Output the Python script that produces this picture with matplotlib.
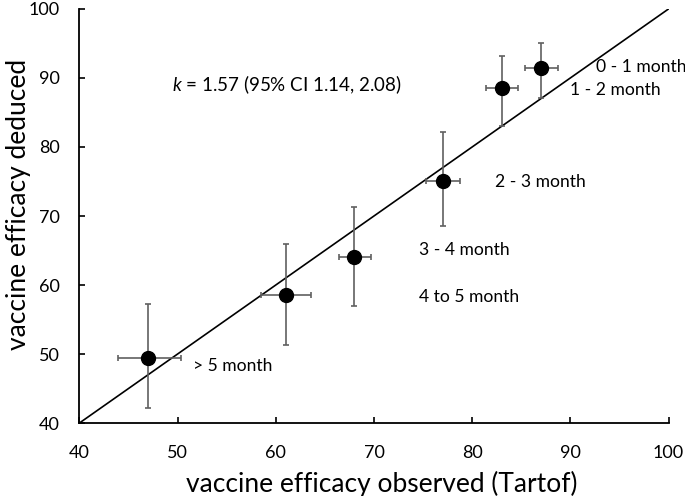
import matplotlib
matplotlib.use("Agg")
import matplotlib.pyplot as plt

plt.rcParams['font.family'] = ['Lato', 'DejaVu Sans']
plt.rcParams['mathtext.fontset'] = 'custom'
plt.rcParams['mathtext.it'] = 'Lato:italic'
plt.rcParams['mathtext.rm'] = 'Lato'

# observed (Tartof) vs deduced vaccine efficacy, with error ranges
observed = [47.0, 61.0, 68.0, 77.0, 83.0, 87.0]
obs_low = [43.9, 58.5, 66.4, 75.3, 81.4, 85.4]
obs_high = [50.4, 63.6, 69.7, 78.8, 84.7, 88.7]
deduced = [49.5, 58.6, 64.0, 75.0, 88.5, 91.5]
ded_low = [42.2, 51.3, 57.0, 68.6, 83.0, 87.1]
ded_high = [57.3, 65.9, 71.3, 82.1, 93.2, 95.1]

labels = ["> 5 month", "4 to 5 month", "3 - 4 month", "2 - 3 month", "1 - 2 month", "0 - 1 month"]
label_x = [51.6, 74.6, 74.6, 82.3, 90.0, 92.6]
label_y = [48.2, 58.3, 65.1, 74.9, 88.3, 91.6]

ticks = [40, 50, 60, 70, 80, 90, 100]

fig = plt.figure(figsize=(6.85, 4.96), dpi=100)
ax = fig.add_axes([0.1158, 0.147, 0.8602, 0.835])

ax.plot([40, 100], [40, 100], color="black", lw=1.2, zorder=1)

xerr = [[o - l for o, l in zip(observed, obs_low)], [h - o for o, h in zip(observed, obs_high)]]
yerr = [[d - l for d, l in zip(deduced, ded_low)], [h - d for d, h in zip(deduced, ded_high)]]
ax.errorbar(observed, deduced, xerr=xerr, yerr=yerr, fmt="none", ecolor="#606060",
            elinewidth=1.2, capsize=2.5, capthick=1.2, zorder=2)
ax.plot(observed, deduced, "o", color="black", markersize=10, zorder=3)

for t, x, y in zip(labels, label_x, label_y):
    ax.text(x, y, t, fontsize=12.6, va="center", ha="left")

ax.text(49.4, 89.0, r"$k$ = 1.57 (95% CI 1.14, 2.08)", fontsize=13.5, va="center", ha="left")

ax.set_xlim(40, 100)
ax.set_ylim(40, 100)
ax.set_xticks(ticks)
ax.set_yticks(ticks)
ax.tick_params(direction="in", length=4, width=1.2, labelsize=13)
ax.tick_params(axis="x", pad=16)
ax.tick_params(axis="y", pad=14)
for s in ["top", "right"]:
    ax.spines[s].set_visible(False)
for s in ["left", "bottom"]:
    ax.spines[s].set_linewidth(1.3)

ax.set_xlabel("vaccine efficacy observed (Tartof)", fontsize=19)
ax.set_ylabel("vaccine efficacy deduced", fontsize=19)
ax.xaxis.set_label_coords(0.514, -0.116)
ax.yaxis.set_label_coords(-0.082, 0.529)

fig.savefig("out.png", dpi=100)
